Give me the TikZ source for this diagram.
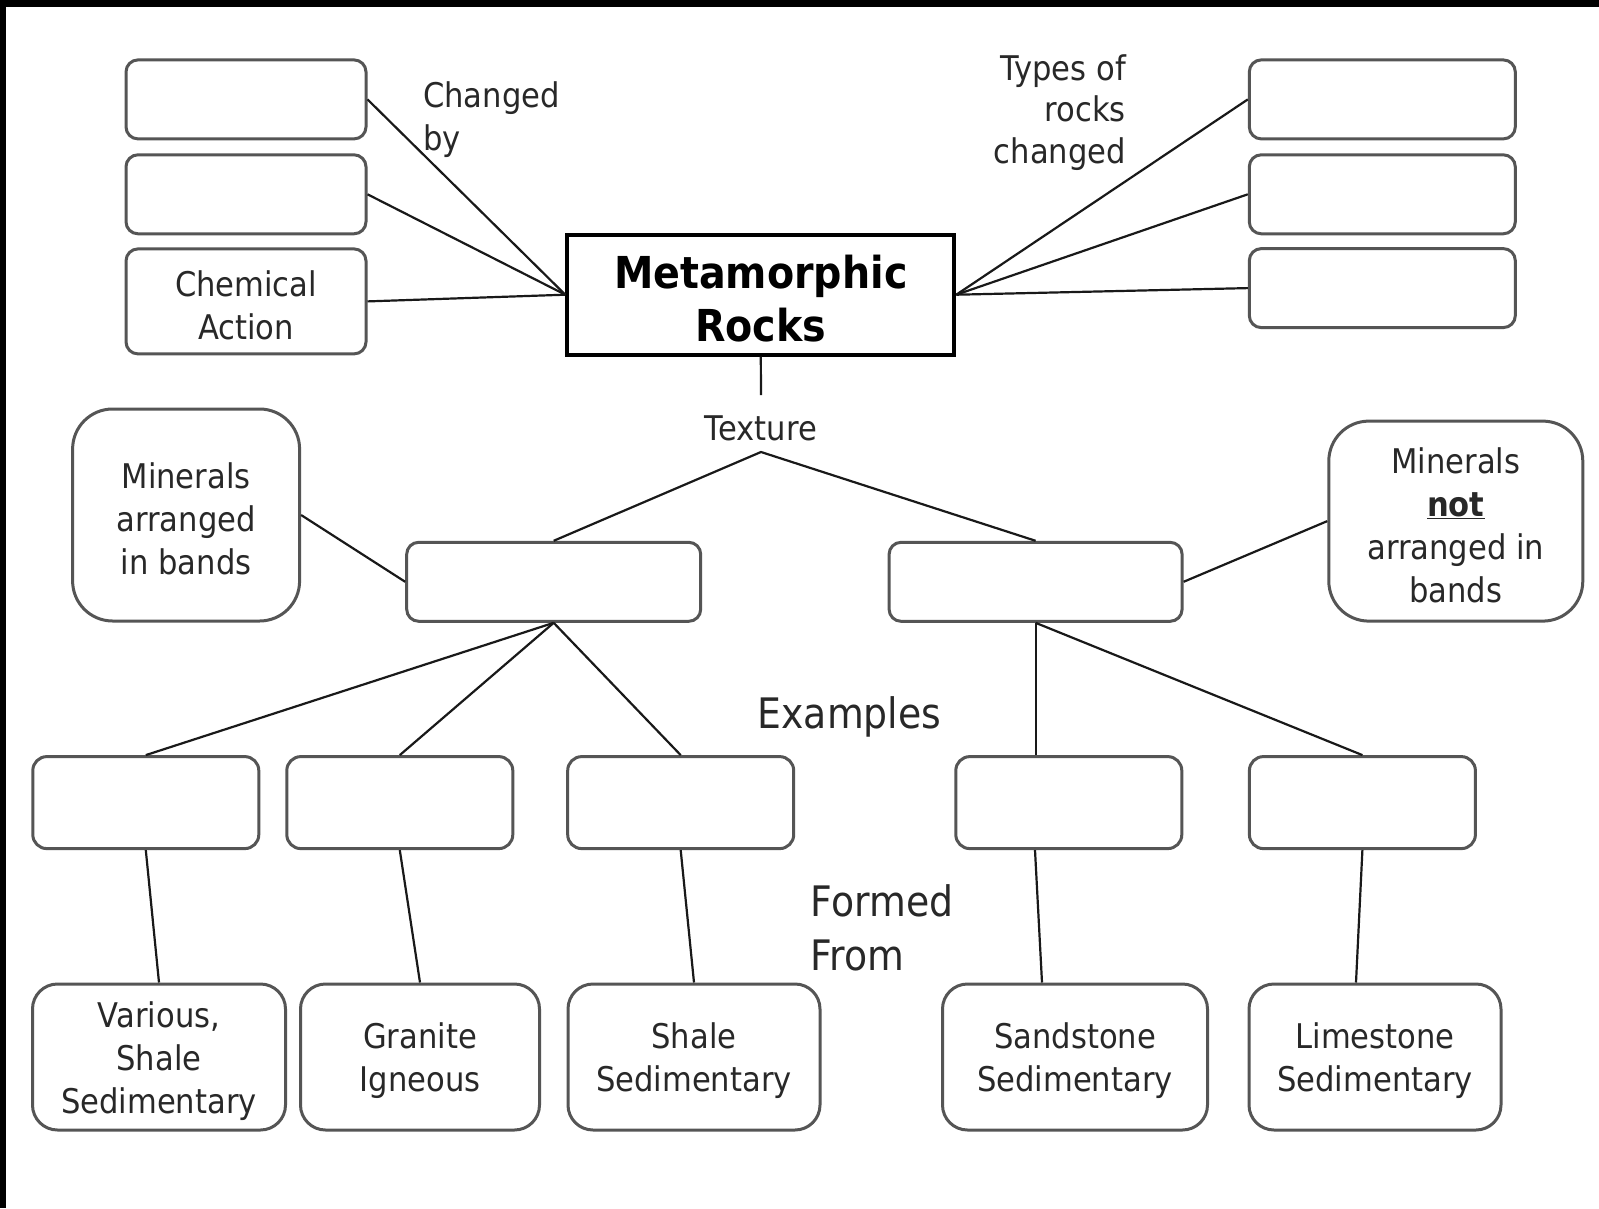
\documentclass[tikz,border=0pt]{standalone}
\usepackage{fontspec}
\setmainfont{DejaVu Sans}[FakeStretch=0.9]
\definecolor{bordergray}{RGB}{85,85,85}
\definecolor{txt}{RGB}{40,40,40}
\newcommand{\fsN}{\fontsize{34}{43}\selectfont}
\newcommand{\fsL}{\fontsize{42}{54}\selectfont}
\newcommand{\fsT}{\fontsize{44}{53}\selectfont\bfseries}
\begin{document}
\begin{tikzpicture}[x=1pt,y=-1pt,
  box/.style={draw=bordergray, line width=3pt, rounded corners=12pt, inner sep=0pt},
  boxtext/.style={label={[inner sep=0pt, align=center, text=txt, font=\fsN, yshift=-4pt]center:{#1}}},
  smallbox/.style={box, minimum width=240pt, minimum height=79pt},
  exbox/.style={box, rounded corners=14pt, minimum width=226pt, minimum height=92pt},
  srcbox/.style={box, rounded corners=25pt, minimum height=146pt},
  bandbox/.style={box, rounded corners=40pt},
  titlebox/.style={draw=black, line width=4pt, inner sep=0pt,
    minimum width=387pt, minimum height=120pt,
    label={[inner sep=0pt, align=center, text=black, font=\fsT, yshift=-4pt]center:{#1}}},
  lbl/.style={inner sep=0pt, text=txt, font=\fsN},
  biglbl/.style={inner sep=0pt, text=txt, font=\fsL},
  con/.style={line width=2.2pt, draw=black!90}]
\useasboundingbox (0,0) rectangle (1599,1208);
\fill[white] (0,0) rectangle (1599,1208);
\fill[black] (0,0) rectangle (1599,7);
\fill[black] (0,0) rectangle (6,1208);

% top left
\node[smallbox] (tl1) at (246,99.4) {};
\node[smallbox] (tl2) at (246,194.3) {};
\node[smallbox, minimum height=105pt, boxtext={Chemical\\Action}] (tl3) at (246,301.4) {};
% title
\node[titlebox={Metamorphic\\Rocks}] (cb) at (760.8,294.7) {};
% top right
\node[smallbox, minimum width=266pt] (tr1) at (1382.3,99.4) {};
\node[smallbox, minimum width=266pt] (tr2) at (1382.3,194.3) {};
\node[smallbox, minimum width=266pt] (tr3) at (1382.3,288.1) {};
% labels
\node[lbl, anchor=west, align=left] (chg) at (423,119.5) {Changed\\by};
\node[lbl, anchor=east, align=right, font=\fontsize{34}{41.5}\selectfont] (typ) at (1126,112.5) {Types of\\rocks\\changed};
\node[lbl] (tex) at (761,428) {Texture};
\coordinate (tt) at (761,395);
\coordinate (tb) at (761,452);
% middle
\node[smallbox, minimum width=294pt] (lmid) at (553.7,581.8) {};
\node[smallbox, minimum width=293pt] (rmid) at (1035.6,581.8) {};
\node[bandbox, minimum width=227pt, minimum height=212pt, boxtext={Minerals\\arranged\\in bands}] (ma) at (186.1,515) {};
\node[bandbox, minimum width=254pt, minimum height=200pt, boxtext={Minerals\\\underline{\textbf{not}}\\arranged in\\bands}] (mn) at (1455.8,521.1) {};
\node[biglbl] (ex) at (849.5,717) {Examples};
% examples
\node[exbox] (e1) at (145.8,802.6) {};
\node[exbox] (e2) at (399.8,802.6) {};
\node[exbox] (e3) at (680.7,802.6) {};
\node[exbox] (e4) at (1068.8,802.6) {};
\node[exbox] (e5) at (1362.4,802.6) {};
\node[biglbl, anchor=west, align=left] (ff) at (810.7,928) {Formed\\From};
% sources
\node[srcbox, minimum width=253pt, boxtext={Various,\\Shale\\Sedimentary}] (b1) at (159,1057) {};
\node[srcbox, minimum width=239pt, boxtext={Granite\\Igneous}] (b2) at (420,1057) {};
\node[srcbox, minimum width=252pt, boxtext={Shale\\Sedimentary}] (b3) at (694,1057) {};
\node[srcbox, minimum width=265pt, boxtext={Sandstone\\Sedimentary}] (b4) at (1075,1057) {};
\node[srcbox, minimum width=252pt, boxtext={Limestone\\Sedimentary}] (b5) at (1375,1057) {};

% connectors
\draw[con] (tl1.east) -- (cb.west);
\draw[con] (tl2.east) -- (cb.west);
\draw[con] (tl3.east) -- (cb.west);
\draw[con] (tr1.west) -- (cb.east);
\draw[con] (tr2.west) -- (cb.east);
\draw[con] (tr3.west) -- (cb.east);
\draw[con] (cb.south) -- (tt);
\draw[con] (lmid.north) -- (tb) -- (rmid.north);
\draw[con] (ma.east) -- (lmid.west);
\draw[con] (rmid.east) -- (mn.west);
\draw[con] (lmid.south) -- (e1.north);
\draw[con] (lmid.south) -- (e2.north);
\draw[con] (lmid.south) -- (e3.north);
\draw[con] (rmid.south) -- (rmid.south |- e4.north);
\draw[con] (rmid.south) -- (e5.north);
\draw[con] (e1.south) -- (b1.north);
\draw[con] (e2.south) -- (b2.north);
\draw[con] (e3.south) -- (b3.north);
\draw[con] ([xshift=-33.8pt]e4.south) -- ([xshift=-33pt]b4.north);
\draw[con] (e5.south) -- ([xshift=-19pt]b5.north);
\end{tikzpicture}
\end{document}
